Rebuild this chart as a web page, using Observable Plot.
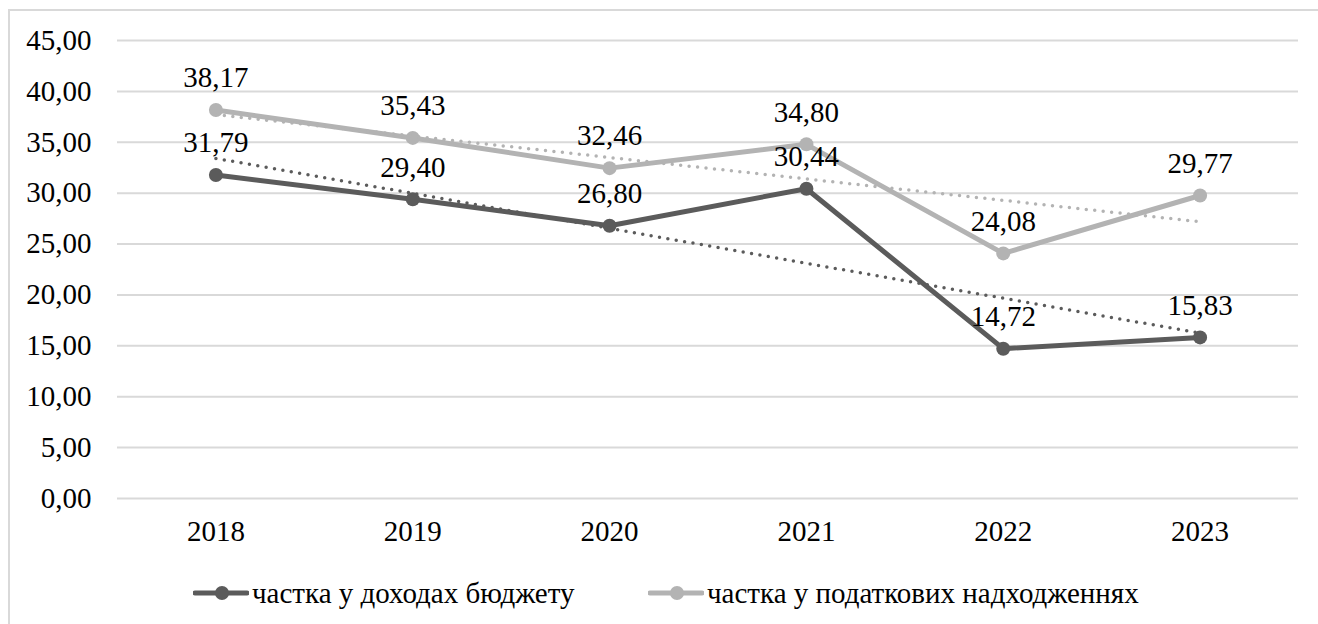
<!DOCTYPE html>
<html>
<head>
<meta charset="utf-8">
<script src="https://cdn.jsdelivr.net/npm/d3@7"></script>
<script src="https://cdn.jsdelivr.net/npm/@observablehq/plot@0.6"></script>
<style>
  html, body { margin: 0; padding: 0; background: #fff; overflow: hidden; }
  #wrap { position: relative; width: 1318px; height: 624px; font-family: "Liberation Serif", "Times New Roman", serif; }
  #frame { position: absolute; left: 8px; top: 9px; width: 1340px; height: 650px; border: 2px solid #d9d9d9; pointer-events: none; }
  #chart { position: absolute; left: 0; top: 0; }
  #legend { position: absolute; left: 0; top: 573px; width: 1318px; height: 40px; font-size: 29px; color: #000; }
  .item { display: flex; align-items: center; position: absolute; top: 0; height: 40px; white-space: nowrap; }
  .item svg { margin-right: 3px; }
</style>
</head>
<body>
<div id="wrap">
  <div id="chart"></div>
  <div id="legend"></div>
  <div id="frame"></div>
</div>
<script>
// Years on the horizontal axis
const years = [2018, 2019, 2020, 2021, 2022, 2023];
// Share in budget revenues, %
const budgetShare = [31.79, 29.40, 26.80, 30.44, 14.72, 15.83];
// Share in tax receipts, %
const taxShare = [38.17, 35.43, 32.46, 34.80, 24.08, 29.77];
// Vertical axis ticks
const yTicks = [0, 5, 10, 15, 20, 25, 30, 35, 40, 45];

const seriesNames = ["частка у доходах бюджету", "частка у податкових надходженнях"];
const seriesColors = ["#5b5b5b", "#b3b3b3"];

const FONT = "'Liberation Serif', 'Times New Roman', serif";
const FS = 29;

// Ukrainian number format: two decimals, comma separator
const fmt = d => d.toFixed(2).replace(".", ",");

const rows = [
  ...years.map((year, i) => ({year, value: budgetShare[i], series: seriesNames[0]})),
  ...years.map((year, i) => ({year, value: taxShare[i], series: seriesNames[1]}))
];

const marks = [
  Plot.gridY(yTicks, {stroke: "#d9d9d9", strokeOpacity: 1, strokeWidth: 2}),
  Plot.axisY(yTicks, {tickSize: 0, tickPadding: 26, tickFormat: fmt, fontSize: FS, label: null}),
  Plot.axisX(years, {tickSize: 0, tickPadding: 22, tickFormat: d => String(d), fontSize: FS, label: null})
];

// Each series: solid line with markers plus a dotted linear trend
seriesNames.forEach((name, k) => {
  const data = rows.filter(r => r.series === name);
  const c = seriesColors[k];
  marks.push(
    Plot.line(data, {x: "year", y: "value", stroke: c, strokeWidth: 5}),
    Plot.dot(data, {x: "year", y: "value", r: 7, fill: c, stroke: "none"}),
    Plot.linearRegressionY(data, {x: "year", y: "value", stroke: c, ci: 0, strokeWidth: 3.5, strokeDasharray: "0 8.5", strokeLinecap: "round"})
  );
});

// Value labels above each point
marks.push(
  Plot.text(rows, {x: "year", y: "value", text: d => fmt(d.value), dy: -32, fontSize: FS, fill: "#000"})
);

const chart = Plot.plot({
  width: 1318,
  height: 560,
  marginLeft: 117,
  marginRight: 20,
  marginTop: 40,
  marginBottom: 62,
  style: {fontFamily: FONT, fontSize: FS + "px", color: "#000", background: "transparent"},
  x: {type: "linear", domain: [2017.5, 2023.5]},
  y: {domain: [0, 45]},
  marks
});
document.getElementById("chart").appendChild(chart);

// Legend: line-with-marker swatches followed by series names
const legend = document.getElementById("legend");
const lefts = [193, 648];
seriesNames.forEach((name, k) => {
  const item = document.createElement("div");
  item.className = "item";
  item.style.left = lefts[k] + "px";
  const c = seriesColors[k];
  item.innerHTML =
    `<svg width="56" height="20"><line x1="2" y1="10" x2="54" y2="10" stroke="${c}" stroke-width="5" stroke-linecap="round"/>` +
    `<circle cx="29" cy="10" r="7" fill="${c}"/></svg><span>${name}</span>`;
  legend.appendChild(item);
});
</script>
</body>
</html>
